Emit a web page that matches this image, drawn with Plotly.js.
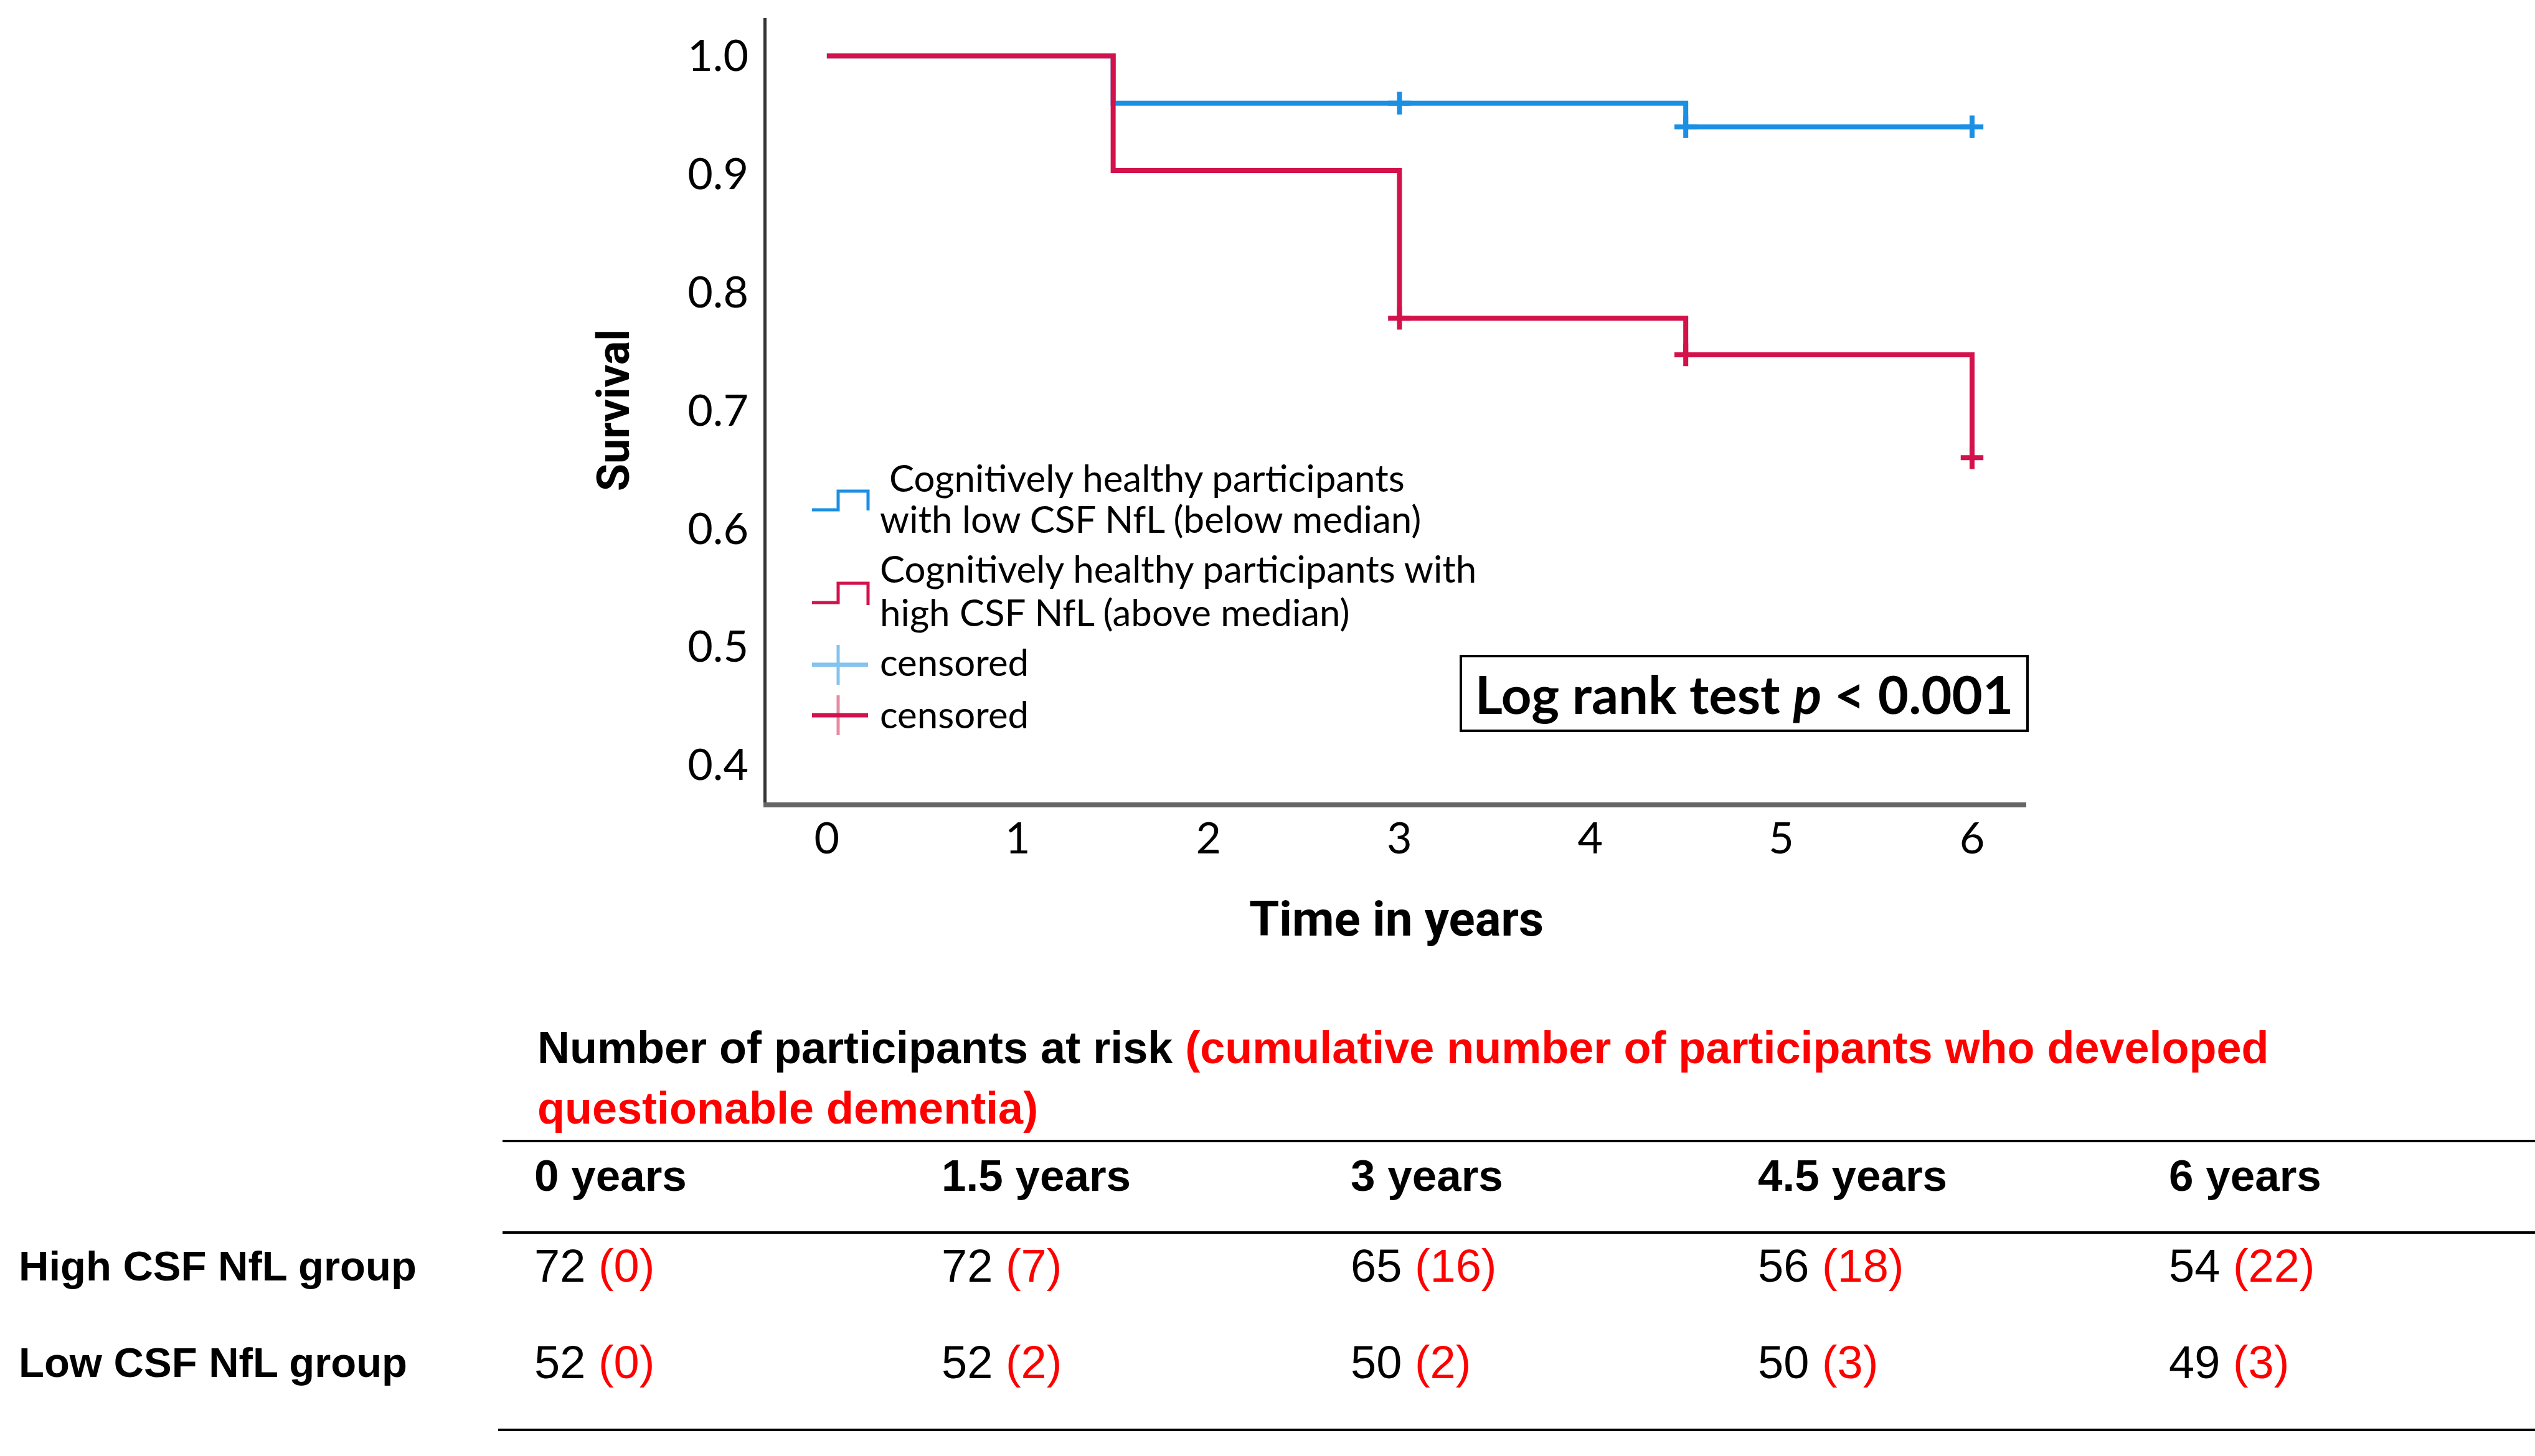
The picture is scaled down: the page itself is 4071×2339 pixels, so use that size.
<!DOCTYPE html>
<html>
<head>
<meta charset="utf-8">
<script src="https://cdn.plot.ly/plotly-3.0.1.min.js"></script>
<style>html,body{margin:0;padding:0;background:#fff;}</style>
</head>
<body>
<div id="chart" style="width:4071px;height:2339px;"></div>
<script>
// ---------------- data ----------------
const lowTime = [0, 1.5, 4.5, 6];
const lowSurv = [1.0, 0.960, 0.940, 0.940];
const highTime = [0, 1.5, 3, 4.5, 6];
const highSurv = [1.0, 0.903, 0.778, 0.747, 0.660];
const lowCensTime = [3, 4.5, 6];
const lowCensSurv = [0.960, 0.940, 0.940];
const highCensTime = [3, 4.5, 6];
const highCensSurv = [0.778, 0.747, 0.660];
const yTicks = [0.4, 0.5, 0.6, 0.7, 0.8, 0.9, 1.0];
const xTicks = [0, 1, 2, 3, 4, 5, 6];
const riskTimes = [0, 1.5, 3, 4.5, 6];
const highAtRisk = [72, 72, 65, 56, 54];
const highEvents = [0, 7, 16, 18, 22];
const lowAtRisk = [52, 52, 50, 50, 49];
const lowEvents = [0, 2, 2, 3, 3];
const groupLabels = ["High CSF NfL group", "Low CSF NfL group"];
const lowNameLines = ["Cognitively healthy participants", "with low CSF NfL (below median)"];
const highNameLines = ["Cognitively healthy participants with", "high CSF NfL (above median)"];
const censName = "censored";

// ---------------- layout helpers ----------------
const W = 4071, H = 2339;
const L = 1231, R = 3254, T = 29, B = 1289;
const px = x => (x - L) / (R - L);
const py = y => (B - y) / (B - T);

const BLUE = '#1b8fe4', LBLUE = '#82c3ef', RED = '#d3124b', PINK = '#e98aa2', TRED = '#FF0000';
const plotFont = 'Lato, sans-serif';
const titleFont = 'Roboto, sans-serif';
const tableFont = '"Liberation Sans", Arial, sans-serif';

const traces = [
  {x: lowTime, y: lowSurv, type: 'scatter', mode: 'lines', line: {shape: 'hv', color: BLUE, width: 8},
   name: lowNameLines.join('<br>'), hoverinfo: 'skip', showlegend: false},
  {x: highTime, y: highSurv, type: 'scatter', mode: 'lines', line: {shape: 'hv', color: RED, width: 8},
   name: highNameLines.join('<br>'), hoverinfo: 'skip', showlegend: false},
  {x: lowCensTime, y: lowCensSurv, type: 'scatter', mode: 'markers', name: censName, showlegend: false,
   marker: {symbol: 'cross-thin', size: 26, color: BLUE, line: {color: BLUE, width: 8}}, hoverinfo: 'skip'},
  {x: highCensTime, y: highCensSurv, type: 'scatter', mode: 'markers', name: censName, showlegend: false,
   marker: {symbol: 'cross-thin', size: 26, color: RED, line: {color: RED, width: 8}}, hoverinfo: 'skip'}
];

const annotations = [];
const shapes = [];
const tf = (size) => ({family: tableFont, size: size, color: '#000'});

// ---- legend (drawn manually to reproduce the step / cross glyphs) ----
const legFont = {family: plotFont, size: 60, color: '#000'};
[[1426, 767, lowNameLines[0]], [1411, 833, lowNameLines[1]],
 [1411, 913, highNameLines[0]], [1411, 983, highNameLines[1]],
 [1411, 1063, censName], [1411, 1147, censName]].forEach(([x, y, t]) => {
  annotations.push({xref: 'paper', yref: 'paper', x: px(x), y: py(y), xanchor: 'left', yanchor: 'middle',
    showarrow: false, text: t, font: legFont});
});
const stepPath = (yLow, yTop, yEnd) =>
  'M' + px(1304) + ',' + py(yLow) + 'H' + px(1346) + 'V' + py(yTop) + 'H' + px(1394) + 'V' + py(yEnd);
shapes.push({type: 'path', xref: 'paper', yref: 'paper', path: stepPath(819, 789, 820), line: {color: BLUE, width: 5}});
shapes.push({type: 'path', xref: 'paper', yref: 'paper', path: stepPath(968, 937, 972), line: {color: RED, width: 5}});
// censored glyphs
const cross = (cy, hCol, vCol) => {
  shapes.push({type: 'line', xref: 'paper', yref: 'paper', x0: px(1346), x1: px(1346), y0: py(cy - 32), y1: py(cy + 32),
    line: {color: vCol, width: 5}});
  shapes.push({type: 'line', xref: 'paper', yref: 'paper', x0: px(1304), x1: px(1394), y0: py(cy), y1: py(cy),
    line: {color: hCol, width: 7}});
};
cross(1068, LBLUE, LBLUE);
cross(1149, RED, PINK);

// Log rank box
annotations.push({
  xref: 'paper', yref: 'paper', x: px(2344), y: py(1052), xanchor: 'left', yanchor: 'top',
  text: '<b>Log rank test <i>p</i> &lt; 0.001</b>', showarrow: false,
  font: {family: plotFont, size: 85, color: '#000'},
  bordercolor: '#000', borderwidth: 4, borderpad: 4, width: 898, height: 108, align: 'center', valign: 'middle'
});

// ---- table ----
annotations.push({
  xref: 'paper', yref: 'paper', x: px(861), y: py(1683), xanchor: 'left', yanchor: 'middle', showarrow: false,
  text: '<b>Number of participants at risk <span style="color:' + TRED + '">(cumulative number of participants who developed</span></b>',
  font: tf(72)
});
annotations.push({
  xref: 'paper', yref: 'paper', x: px(861), y: py(1780), xanchor: 'left', yanchor: 'middle', showarrow: false,
  text: '<b><span style="color:' + TRED + '">questionable dementia)</span></b>',
  font: tf(72)
});

const colX = [856, 1510, 2167, 2821, 3481];
riskTimes.forEach((t, i) => {
  annotations.push({xref: 'paper', yref: 'paper', x: px(colX[i]), y: py(1888), xanchor: 'left', yanchor: 'middle',
    showarrow: false, text: '<b>' + t + ' years</b>', font: tf(71)});
  annotations.push({xref: 'paper', yref: 'paper', x: px(colX[i]), y: py(2033), xanchor: 'left', yanchor: 'middle',
    showarrow: false, text: highAtRisk[i] + ' <span style="color:' + TRED + '">(' + highEvents[i] + ')</span>', font: tf(74)});
  annotations.push({xref: 'paper', yref: 'paper', x: px(colX[i]), y: py(2188), xanchor: 'left', yanchor: 'middle',
    showarrow: false, text: lowAtRisk[i] + ' <span style="color:' + TRED + '">(' + lowEvents[i] + ')</span>', font: tf(74)});
});
annotations.push({xref: 'paper', yref: 'paper', x: px(28), y: py(2033), xanchor: 'left', yanchor: 'middle',
  showarrow: false, text: '<b>' + groupLabels[0] + '</b>', font: tf(67)});
annotations.push({xref: 'paper', yref: 'paper', x: px(28), y: py(2188), xanchor: 'left', yanchor: 'middle',
  showarrow: false, text: '<b>' + groupLabels[1] + '</b>', font: tf(67)});

[[807, 1833], [807, 1980], [800, 2297]].forEach(([x0, y]) => {
  shapes.push({type: 'line', xref: 'paper', yref: 'paper', x0: px(x0), x1: px(4071), y0: py(y), y1: py(y),
    line: {color: '#000', width: 4}});
});

const layout = {
  width: W, height: H,
  margin: {l: L, r: W - R, t: T, b: H - B, pad: 0},
  paper_bgcolor: '#fff', plot_bgcolor: '#fff',
  showlegend: false,
  xaxis: {
    range: [-0.316, 6.284], tickvals: xTicks, ticktext: xTicks.map(String),
    showgrid: false, zeroline: false, showline: true, linecolor: '#666', linewidth: 8, ticks: '',
    tickfont: {family: plotFont, size: 70, color: '#000'}, ticklabelstandoff: -10,
    title: {text: '<b>Time in years</b>', font: {family: titleFont, size: 78, color: '#000'}, standoff: 66}
  },
  yaxis: {
    range: [0.3683, 1.032], tickvals: yTicks, ticktext: yTicks.map(v => v.toFixed(1)),
    showgrid: false, zeroline: false, showline: true, linecolor: '#333', linewidth: 5, ticks: '',
    tickfont: {family: plotFont, size: 70, color: '#000'}, ticklabelstandoff: 10,
    title: {text: '<b>Survival</b>', font: {family: titleFont, size: 72, color: '#000'}, standoff: 72}
  },
  annotations: annotations,
  shapes: shapes
};

Plotly.newPlot('chart', traces, layout, {staticPlot: true, displayModeBar: false});
</script>
</body>
</html>
